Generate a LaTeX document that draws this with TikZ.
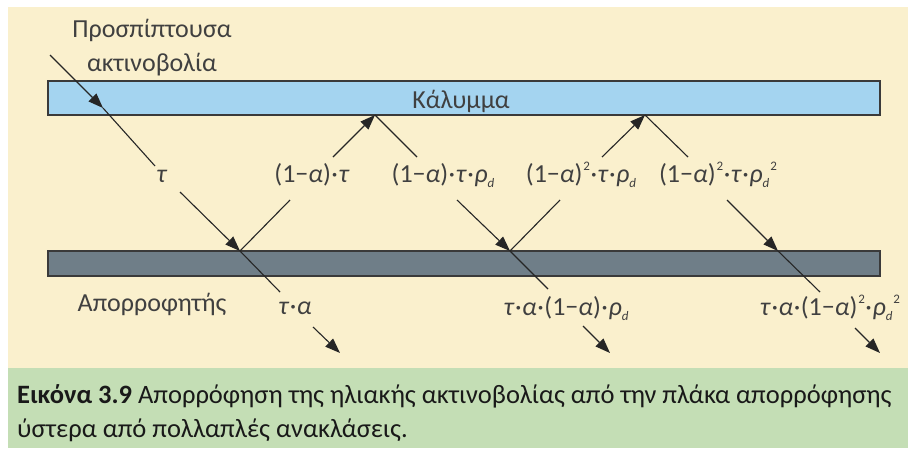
\documentclass[tikz,border=0pt]{standalone}
\usepackage{fontspec}
\setmainfont{Carlito}
\usetikzlibrary{arrows.meta}
\definecolor{cream}{HTML}{FAF0CD}
\definecolor{capgreen}{HTML}{C4DEB5}
\definecolor{coverblue}{HTML}{A4D4F0}
\definecolor{absgray}{HTML}{6F7E88}
\definecolor{edgegray}{HTML}{3A3A3A}
\definecolor{txtgray}{HTML}{404040}
\definecolor{raycol}{HTML}{262626}
\newcommand{\gt}{\textit{τ}}
\newcommand{\ga}{\textit{α}}
\newcommand{\sbd}{\raisebox{-5pt}{\fontsize{13}{13}\selectfont\textit{d}}}
\newcommand{\spt}{\kern1pt\raisebox{12pt}{\fontsize{13}{13}\selectfont 2}}
\newcommand{\grd}{\textit{ρ}\sbd}
\newcommand{\mdt}{\kern0.5pt·\kern0.5pt}
\tikzset{
  ray/.style={line width=1.1pt, draw=raycol},
  arr/.style={ray, -{Triangle[length=15pt,width=11pt]}},
  bar/.style={draw=edgegray, line width=1.2pt},
  lbl/.style={text=txtgray, font=\fontsize{26}{30}\selectfont, inner sep=0pt, anchor=base},
  captext/.style={text=black!90, font=\fontsize{26.5}{30}\selectfont, inner sep=0pt, anchor=base west}
}
\begin{document}
\begin{tikzpicture}[x=1pt,y=-1pt]
\useasboundingbox (0,0) rectangle (908,448);
\fill[white] (0,0) rectangle (908,448);
\fill[cream] (8,7) rectangle (908,368);
\fill[capgreen] (8,368) rectangle (908,448);
% bars
\draw[bar, fill=coverblue] (48,81) rectangle (880,115);
\draw[bar, fill=absgray] (48,251) rectangle (880,276);
% labels
\node[lbl] (inc1) at (152,37) {Προσπίπτουσα};
\node[lbl] (inc2) at (152,71) {ακτινοβολία};
\node[lbl] (cover) at (461,108) {Κάλυμμα};
\node[lbl] (absorber) at (152,311) {Απορροφητής};
\node[lbl] (l1) at (162,182) {\gt};
\node[lbl] (l2) at (312,182) {(1−\ga)\mdt\gt};
\node[lbl] (l3) at (443,182) {(1−\ga)\mdt\gt\mdt\grd};
\node[lbl] (l4) at (581,182) {(1−\ga)\spt\mdt\gt\mdt\grd};
\node[lbl] (l5) at (718,182) {(1−\ga)\spt\mdt\gt\mdt\grd\spt};
\node[lbl] (o1) at (295,314) {\gt\mdt\ga};
\node[lbl] (o2) at (566,315) {\gt\mdt\ga\mdt(1−\ga)\mdt\grd};
\node[lbl] (o3) at (830,315) {\gt\mdt\ga\mdt(1−\ga)\spt\mdt\grd\spt};
% caption
\node[captext] (cap1) at (17,403) {\textbf{Εικόνα 3.9} Απορρόφηση της ηλιακής ακτινοβολίας από την πλάκα απορρόφησης};
\node[captext] (cap2) at (17,437) {ύστερα από πολλαπλές ανακλάσεις.};
% ray coordinates
\coordinate (p0) at (50,55);
\coordinate (a0) at (103,108);
\coordinate (g1a) at (155,166);
\coordinate (g1b) at (180,192);
\coordinate (b1) at (240,251);
\coordinate (e1) at (280,292);
\coordinate (s1a) at (313,327);
\coordinate (s1b) at (340,353);
\coordinate (g2a) at (290,200);
\coordinate (g2b) at (333,157);
\coordinate (c1) at (375,115);
\coordinate (g3a) at (417,157);
\coordinate (g3b) at (457,200);
\coordinate (b2) at (510,251);
\coordinate (e2) at (548,289);
\coordinate (s2a) at (583,326);
\coordinate (s2b) at (610,353);
\coordinate (g4a) at (560,200);
\coordinate (g4b) at (602,157);
\coordinate (c2) at (645,115);
\coordinate (g5a) at (688,157);
\coordinate (g5b) at (727,200);
\coordinate (b3) at (778,251);
\coordinate (e3) at (820,292);
\coordinate (s3a) at (855,328);
\coordinate (s3b) at (880,353);
% rays
\draw[arr] (p0) -- (a0);
\draw[ray] (a0) -- (g1a);
\draw[arr] (g1b) -- (b1);
\draw[ray] (b1) -- (e1);
\draw[arr] (s1a) -- (s1b);
\draw[ray] (b1) -- (g2a);
\draw[arr] (g2b) -- (c1);
\draw[ray] (c1) -- (g3a);
\draw[arr] (g3b) -- (b2);
\draw[ray] (b2) -- (e2);
\draw[arr] (s2a) -- (s2b);
\draw[ray] (b2) -- (g4a);
\draw[arr] (g4b) -- (c2);
\draw[ray] (c2) -- (g5a);
\draw[arr] (g5b) -- (b3);
\draw[ray] (b3) -- (e3);
\draw[arr] (s3a) -- (s3b);
\end{tikzpicture}
\end{document}
